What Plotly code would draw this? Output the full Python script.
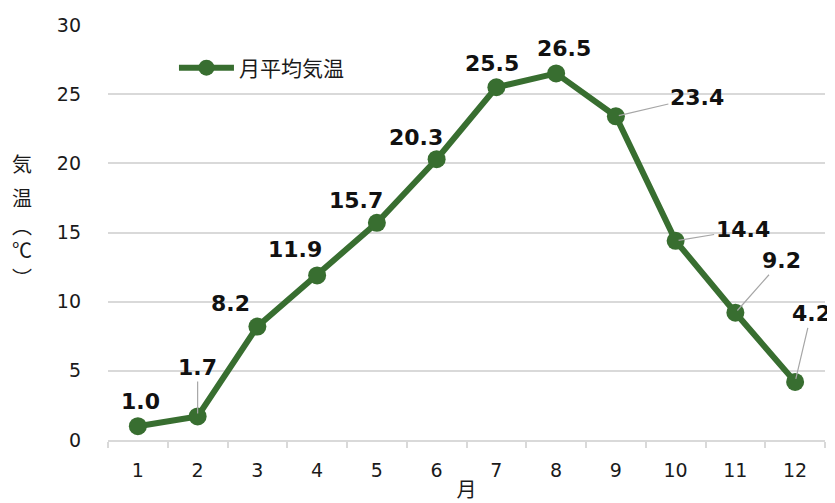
import plotly.graph_objects as go

months = ["1", "2", "3", "4", "5", "6", "7", "8", "9", "10", "11", "12"]
temps = [1.0, 1.7, 8.2, 11.9, 15.7, 20.3, 25.5, 26.5, 23.4, 14.4, 9.2, 4.2]
series_name = "月平均気温"
y_ticks = [0, 5, 10, 15, 20, 25, 30]

# label offsets (pixels) and whether a leader line is drawn
label_dx = [3, 0, -27, -22, -21, -21, -4, 8, 81, 67, 46, 16]
label_dy = [-25, -49, -23, -26, -22, -22, -24, -25, -19, -11, -52, -68]
leader = [False, True, False, False, False, False, False, False, True, True, True, True]

GREEN = "#386e30"
GRID = "#d9d9d9"
NUM_FONT = "DejaVu Sans"
JP_FONT = "Noto Sans CJK JP"

fig = go.Figure()
fig.add_trace(go.Scatter(
    x=months, y=temps, name=series_name, mode="lines+markers",
    line=dict(color=GREEN, width=6),
    marker=dict(color=GREEN, size=18),
))

annotations = []
for i, (v, dx, dy, ld) in enumerate(zip(temps, label_dx, label_dy, leader)):
    a = dict(x=i, y=v, xref="x", yref="y", text=f"{v:.1f}",
             font=dict(family=NUM_FONT, size=22, color="#111111", weight="bold"),
             )
    if ld:
        a.update(showarrow=True, ax=dx, ay=dy, arrowhead=0, arrowwidth=1.2,
                 arrowcolor="#a6a6a6", standoff=3)
    else:
        a.update(showarrow=False, xshift=dx, yshift=-dy)
    annotations.append(a)

# vertical y-axis title 気温（℃）: stacked characters, vertical-form parentheses
title_chars = [("気", 163), ("温", 197), ("︵", 225), ("℃", 249), ("︶", 277)]
for ch, py in title_chars:
    annotations.append(dict(
        x=0, xref="paper", xshift=-86, xanchor="center",
        y=(440 - py) / 415, yref="paper", yanchor="middle",
        text=ch, showarrow=False,
        font=dict(family=JP_FONT, size=20, color="#1a1a1a"),
    ))

fig.update_layout(
    width=827, height=495,
    margin=dict(l=100, r=10, t=17, b=63, autoexpand=False),
    paper_bgcolor="white", plot_bgcolor="white",
    showlegend=True,
    legend=dict(x=0.092, y=(440 - 68) / 415, xanchor="left", yanchor="middle",
                bgcolor="rgba(0,0,0,0)", itemwidth=55,
                font=dict(family=JP_FONT, size=21, color="#1a1a1a")),
    xaxis=dict(
        type="category", range=[-0.5, 11.5], automargin=False,
        showline=True, linecolor=GRID, linewidth=1.5,
        ticks="outside", tickson="boundaries", ticklen=6, tickcolor=GRID, tickwidth=1.5,
        showgrid=False, ticklabelstandoff=12,
        tickfont=dict(family=NUM_FONT, size=19, color="#1a1a1a"),
        title=dict(text="月", font=dict(family=JP_FONT, size=20, color="#1a1a1a"), standoff=8),
    ),
    yaxis=dict(
        range=[0, 30], tickvals=y_ticks, showgrid=True, gridcolor=GRID, gridwidth=1.5,
        zeroline=False, showline=False, ticks="", ticklabelstandoff=26, automargin=False,
        tickfont=dict(family=NUM_FONT, size=19, color="#1a1a1a"),
    ),
    annotations=annotations,
)

fig.write_html("out.html")
